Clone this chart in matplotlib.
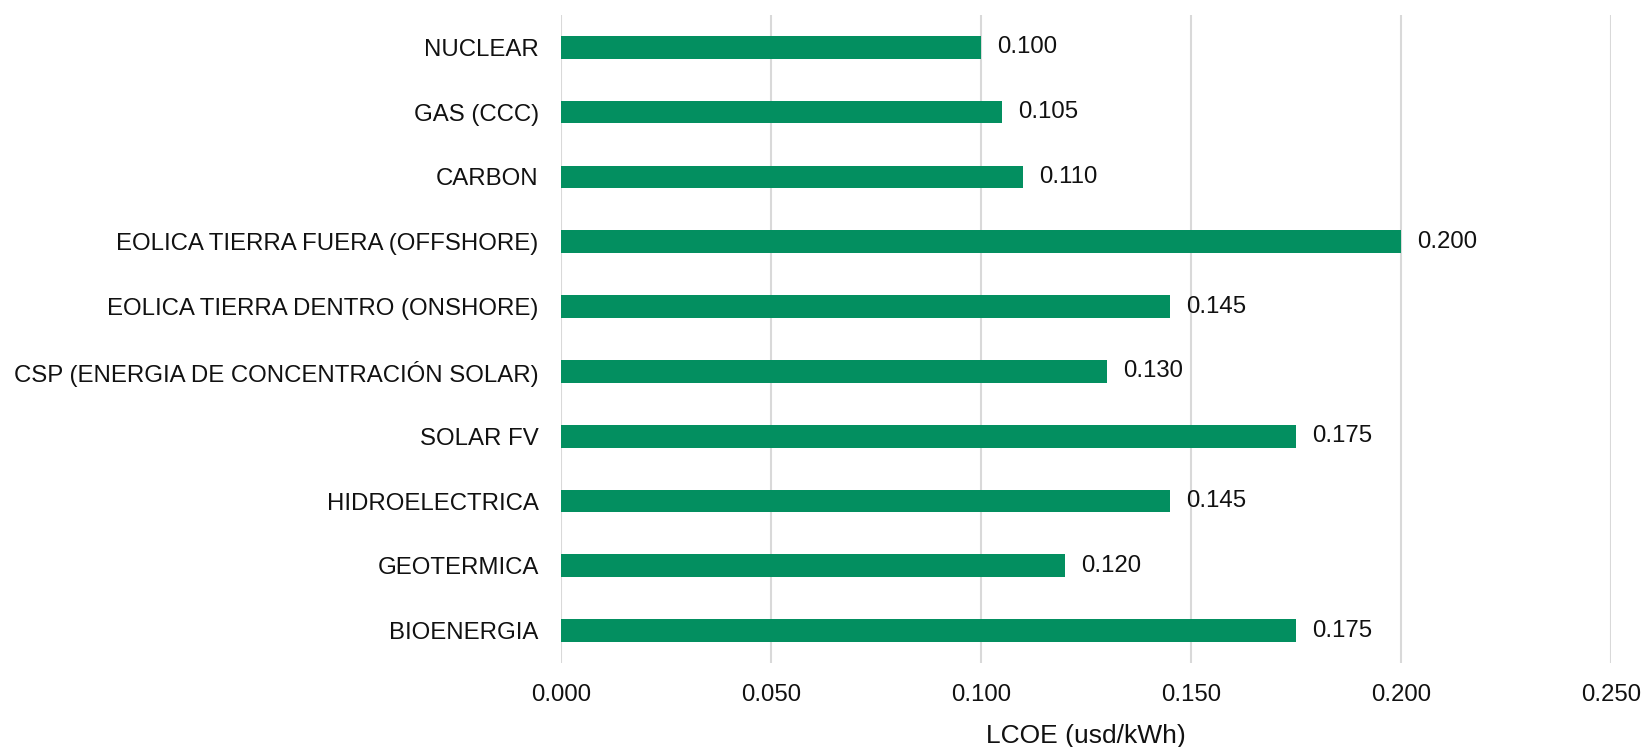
import matplotlib.pyplot as plt

plt.rcParams['font.family'] = ['Liberation Sans', 'DejaVu Sans']

tecnologias = [
    "NUCLEAR",
    "GAS (CCC)",
    "CARBON",
    "EOLICA TIERRA FUERA (OFFSHORE)",
    "EOLICA TIERRA DENTRO (ONSHORE)",
    "CSP (ENERGIA DE CONCENTRACIÓN SOLAR)",
    "SOLAR FV",
    "HIDROELECTRICA",
    "GEOTERMICA",
    "BIOENERGIA",
]
lcoe = [0.100, 0.105, 0.110, 0.200, 0.145, 0.130, 0.175, 0.145, 0.120, 0.175]
ticks_x = [0.0, 0.05, 0.10, 0.15, 0.20, 0.25]

verde = "#038f60"
texto = "#111111"
fs = 17.3

fig = plt.figure(figsize=(16.44, 7.47), dpi=100)
ax = fig.add_axes([0.3412, 0.1124, 0.980 - 0.3412, 0.980 - 0.1124])

pos = list(range(len(tecnologias)))
ax.barh(pos, lcoe, height=0.35, color=verde, zorder=3)

for y, v in zip(pos, lcoe):
    ax.annotate(f"{v:.3f}", xy=(v, y), xytext=(11.5, 0), textcoords="offset points",
                va="center", ha="left", fontsize=fs, color=texto)

ax.set_ylim(len(tecnologias) - 0.5, -0.5)
ax.set_yticks(pos)
ax.set_yticklabels(tecnologias, fontsize=fs, color=texto)
ax.set_xlim(0, 0.25)
ax.set_xticks(ticks_x)
ax.set_xticklabels([f"{t:.3f}" for t in ticks_x], fontsize=fs, color=texto)
ax.tick_params(axis="both", length=0)
ax.tick_params(axis="y", pad=16)
ax.tick_params(axis="x", pad=15)

ax.set_xlabel("LCOE (usd/kWh)", fontsize=19, color=texto, va="center")
ax.xaxis.set_label_coords(0.5, -0.112)

ax.grid(axis="x", color="#d9d9d9", linewidth=1.5, zorder=0)
for s in ax.spines.values():
    s.set_visible(False)

fig.savefig("out.png", dpi=100)
